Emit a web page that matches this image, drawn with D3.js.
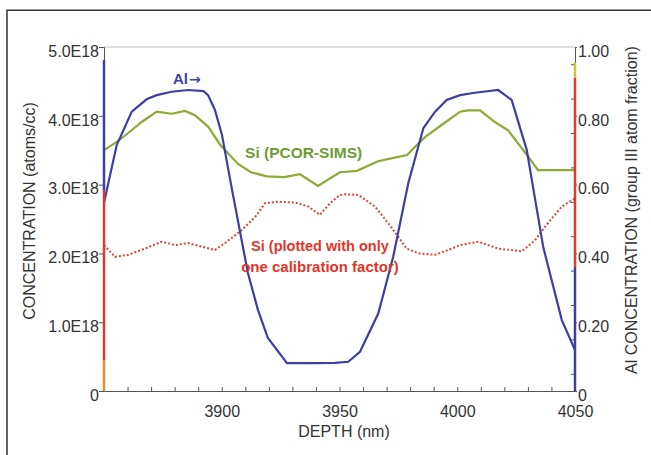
<!DOCTYPE html>
<html lang="en">
<head>
<meta charset="UTF-8">
<title>Al / Si depth profile</title>
<script src="https://d3js.org/d3.v7.min.js"></script>
<style>
  body { margin: 0; background: #fff; }
  svg { display: block; font-family: "Liberation Sans", Arial, sans-serif; }
  .axis text { font-size: 16px; fill: #333; }
  .axis path, .axis line { stroke: #555; }
</style>
</head>
<body>
<div id="chart"></div>
<script>
// Depth (nm) / value pairs
const alDepth = [3850, 3855.4, 3861.8, 3868.1, 3872.4, 3878.7, 3885.8, 3892.2, 3894.2, 3897.1, 3900.1, 3904.4,
  3911.1, 3915.4, 3919.6, 3927.7, 3939.6, 3948.1, 3953.7, 3958.7, 3966.5, 3972.8, 3979.2, 3985.6, 3990.6,
  3995.5, 4001.2, 4007.5, 4017.4, 4023.1, 4029.5, 4036.5, 4044.4, 4050];
const alFrac = [0.547, 0.715, 0.812, 0.848, 0.860, 0.870, 0.875, 0.872, 0.860, 0.817, 0.744, 0.584,
  0.343, 0.235, 0.154, 0.081, 0.081, 0.082, 0.085, 0.114, 0.226, 0.390, 0.604, 0.764, 0.812,
  0.846, 0.860, 0.867, 0.875, 0.846, 0.701, 0.419, 0.206, 0.119];

const siDepth = [3850, 3855.4, 3860.3, 3866.0, 3872.4, 3878.7, 3884.4, 3888.6, 3894.3, 3899.3, 3906.9, 3912.4,
  3919.2, 3926.5, 3933.2, 3940.9, 3946.4, 3950.2, 3957.4, 3966.4, 3974.4, 3978.7, 3982.1, 3986.3, 3993.5,
  4001.2, 4004.6, 4009.7, 4016.0, 4021.6, 4029.6, 4034.3, 4050];
const siConc = [3.50, 3.62, 3.75, 3.91, 4.06, 4.03, 4.07, 4.01, 3.84, 3.58, 3.30, 3.18,
  3.12, 3.11, 3.15, 2.98, 3.10, 3.18, 3.20, 3.34, 3.40, 3.43, 3.55, 3.69, 3.87,
  4.06, 4.08, 4.08, 3.91, 3.79, 3.43, 3.21, 3.21];

const si1Depth = [3850, 3854.7, 3860.3, 3867.4, 3874.5, 3880.1, 3885.8, 3891.5, 3897.1, 3901.4, 3908.5, 3914.2,
  3918.4, 3924.0, 3931.1, 3936.8, 3941.7, 3946.0, 3950.2, 3952.3, 3958.0, 3965.1, 3970.7, 3975.0, 3978.5,
  3983.5, 3990.6, 3996.2, 4001.2, 4009.0, 4017.4, 4027.4, 4033.0, 4037.3, 4044.4, 4050];
const si1Conc = [2.12, 1.95, 1.98, 2.07, 2.17, 2.12, 2.15, 2.10, 2.05, 2.15, 2.34, 2.53,
  2.73, 2.75, 2.74, 2.68, 2.56, 2.73, 2.85, 2.86, 2.85, 2.68, 2.44, 2.24, 2.07,
  2.00, 1.98, 2.05, 2.12, 2.17, 2.07, 2.03, 2.19, 2.39, 2.68, 2.80];

// coloured runs on the two vertical axes (left in E18, right in fraction)
const leftEdge = [[0, 0.45, "#f08a30"], [0.45, 2.92, "#e03a2a"], [2.92, 4.81, "#3d3fa5"]];
const rightEdge = [[0, 0.36, "#3d3fa5"], [0.36, 0.91, "#e03a2a"], [0.91, 0.955, "#c8c838"]];

const xTicks = [3900, 3950, 4000, 4050];
const leftTicks = [0, 1, 2, 3, 4, 5];
const rightTicks = [0, 0.2, 0.4, 0.6, 0.8, 1.0];

const W = 651, H = 455;
const m = {left: 104, right: 575, top: 47, bottom: 391};

const svg = d3.select("#chart").append("svg").attr("width", W).attr("height", H);

const x = d3.scaleLinear().domain([3850, 4050]).range([m.left, m.right]);
const yL = d3.scaleLinear().domain([0, 5]).range([m.bottom, m.top]);
const yR = d3.scaleLinear().domain([0, 1]).range([m.bottom, m.top]);

// outer frame (only top and left edges show)
svg.append("path").attr("d", `M7,${H}V10.25H${W}`).attr("fill", "none").attr("stroke", "#333").attr("stroke-width", 1.5);

// top frame of plot
svg.append("line").attr("x1", m.left).attr("x2", m.right).attr("y1", m.top).attr("y2", m.top)
  .attr("stroke", "#bbb").attr("stroke-width", 1.2);

// x axis
svg.append("g").attr("class", "axis").attr("transform", `translate(0,${m.bottom})`)
  .call(d3.axisBottom(x).tickValues(d3.range(3860, 4050, 10)).tickSize(-4).tickFormat(""))
  .call(g => g.select(".domain").remove());
svg.append("g").attr("class", "axis").attr("transform", `translate(0,${m.bottom})`)
  .call(d3.axisBottom(x).tickValues(xTicks).tickSize(0).tickPadding(14.5).tickFormat(d3.format("d")))
  .call(g => g.select(".domain").attr("stroke-width", 1.2));

// left axis
svg.append("g").attr("class", "axis").attr("transform", `translate(${m.left},0)`)
  .call(d3.axisLeft(yL).tickValues(leftTicks).tickSize(5).tickPadding(0)
    .tickFormat(d => d === 0 ? "0" : d.toFixed(1) + "E18"))
  .call(g => g.selectAll("text").attr("dy", "0.58em"));

// right axis
svg.append("g").attr("class", "axis").attr("transform", `translate(${m.right},0)`)
  .call(d3.axisRight(yR).tickValues(d3.range(0.05, 1, 0.1)).tickSize(-4).tickFormat(""))
  .call(g => g.select(".domain").remove());
svg.append("g").attr("class", "axis").attr("transform", `translate(${m.right},0)`)
  .call(d3.axisRight(yR).tickValues(rightTicks).tickSize(2).tickPadding(1)
    .tickFormat(d => d === 0 ? "0" : d.toFixed(2)))
  .call(g => g.selectAll("text").attr("dy", "0.58em"));

// axis titles
svg.append("text").attr("transform", `translate(35,211) rotate(-90)`).attr("text-anchor", "middle")
  .attr("font-size", 16).attr("fill", "#333").text("CONCENTRATION (atoms/cc)");
svg.append("text").attr("transform", `translate(637,210) rotate(-90)`).attr("text-anchor", "middle")
  .attr("font-size", 16).attr("fill", "#333").text("Al CONCENTRATION (group III atom fraction)");
svg.append("text").attr("x", 344).attr("y", 437).attr("text-anchor", "middle")
  .attr("font-size", 16).attr("fill", "#333").text("DEPTH (nm)");

// series
const lineL = d3.line().x(d => x(d[0])).y(d => yL(d[1]));
const lineR = d3.line().x(d => x(d[0])).y(d => yR(d[1]));

svg.append("path").datum(d3.zip(si1Depth, si1Conc)).attr("d", lineL)
  .attr("fill", "none").attr("stroke", "#d9473a").attr("stroke-width", 2).attr("stroke-dasharray", "2,2");
svg.append("path").datum(d3.zip(siDepth, siConc)).attr("d", lineL)
  .attr("fill", "none").attr("stroke", "#8cab35").attr("stroke-width", 2.2);
svg.append("path").datum(d3.zip(alDepth, alFrac)).attr("d", lineR)
  .attr("fill", "none").attr("stroke", "#3d3fa5").attr("stroke-width", 2.2);

// coloured axis edges
svg.selectAll(".ledge").data(leftEdge).enter().append("line")
  .attr("x1", m.left).attr("x2", m.left).attr("y1", d => yL(d[0])).attr("y2", d => yL(d[1]))
  .attr("stroke", d => d[2]).attr("stroke-width", 2.5);
svg.selectAll(".redge").data(rightEdge).enter().append("line")
  .attr("x1", m.right).attr("x2", m.right).attr("y1", d => yR(d[0])).attr("y2", d => yR(d[1]))
  .attr("stroke", d => d[2]).attr("stroke-width", 2.5);

// annotations
const alLabel = svg.append("text").attr("x", x(3879.3)).attr("y", yR(0.892)).attr("font-size", 15)
  .attr("font-weight", "bold").attr("fill", "#3d3fa5");
alLabel.append("tspan").text("Al");
alLabel.append("tspan").attr("font-family", "DejaVu Sans").attr("font-size", 14).attr("dx", 1).text("\u2192");
svg.append("text").attr("x", x(3909.9)).attr("y", yL(3.39)).attr("font-size", 15.5).attr("font-weight", "bold")
  .attr("fill", "#6f9b35").text("Si (PCOR-SIMS)");
svg.append("text").attr("x", x(3941.7)).attr("y", yL(2.03)).attr("text-anchor", "middle")
  .attr("font-size", 14.5).attr("font-weight", "bold").attr("fill", "#e3342a").text("Si (plotted with only");
svg.append("text").attr("x", x(3941.7)).attr("y", yL(1.73)).attr("text-anchor", "middle")
  .attr("font-size", 15).attr("font-weight", "bold").attr("fill", "#e3342a").text("one calibration factor)");
</script>
</body>
</html>
